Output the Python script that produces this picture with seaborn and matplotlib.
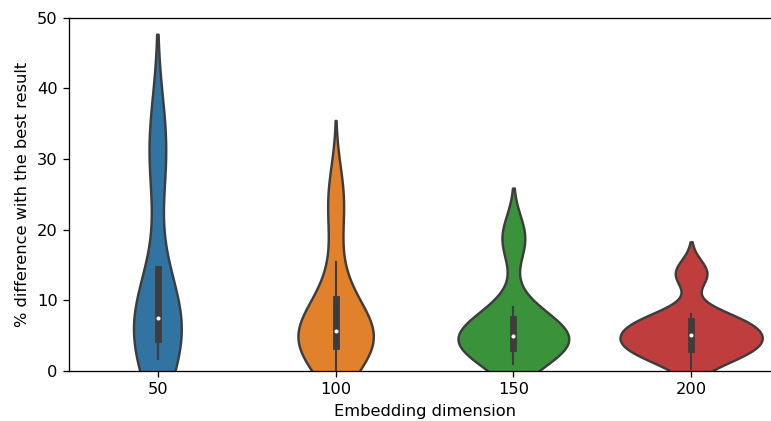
import matplotlib
matplotlib.use("Agg")
import matplotlib.pyplot as plt
import matplotlib.colors as mcolors
import seaborn as sns
import pandas as pd

# Embedding dimensions compared
dims = ["50", "100", "150", "200"]

# % difference with the best result, one list per embedding dimension
diff_50 = [1.66, 3.0, 4.2, 4.6, 6.5, 7.2, 7.66, 8.5, 9.33,
           29.6, 31.5, 33.2]
diff_100 = [0.0, 1.2, 2.1, 2.8, 3.3, 3.6, 4.3, 4.8, 5.2, 5.5,
            5.8, 6.3, 7.2, 8.3, 9.9, 11.0, 15.4, 21.5, 24.0, 27.0]
diff_150 = [1.05, 2.0, 2.6, 3.0, 3.2, 3.35, 3.8, 4.2, 4.6, 4.85,
            5.1, 5.5, 6.0, 6.6, 7.3, 7.8, 9.0, 17.5, 19.0, 19.8]
diff_200 = [0.34, 1.2, 1.8, 2.2, 2.5, 2.7, 2.9, 3.0, 3.1, 3.4,
            3.7, 4.0, 4.3, 4.6, 4.9, 5.1, 5.2, 5.4, 5.7, 6.0,
            6.3, 6.6, 6.8, 7.0, 7.4, 7.6, 7.8, 8.04, 13.15, 13.5,
            14.0, 14.6]

series = [diff_50, diff_100, diff_150, diff_200]
df = pd.DataFrame({
    "dim": [d for d, vals in zip(dims, series) for _ in vals],
    "diff": [v for vals in series for v in vals],
})

DPI = 117
fig = plt.figure(figsize=(771 / DPI, 421 / DPI), dpi=DPI)
ax = fig.add_axes([69 / 771, 50 / 421, (780 - 69) / 771, (371 - 17.5) / 421])

sns.violinplot(data=df, x="dim", y="diff", hue="dim", order=dims,
               hue_order=dims, palette="tab10", legend=False,
               common_norm=True, linewidth=1.5,
               inner_kws=dict(box_width=4.2, whis_width=1.3), ax=ax)

# show the median as a white dot inside the box
for line in ax.lines:
    if mcolors.same_color(line.get_markerfacecolor(), "white"):
        line.set_marker("o")
        line.set_markersize(2.5)
        line.set_markeredgewidth(0)

ax.set_ylim(0, 50)
ax.set_xlim(-0.5, 3.5)
ax.set_xlabel("Embedding dimension")
ax.set_ylabel("% difference with the best result")

fig.savefig("out.png", dpi=DPI)
